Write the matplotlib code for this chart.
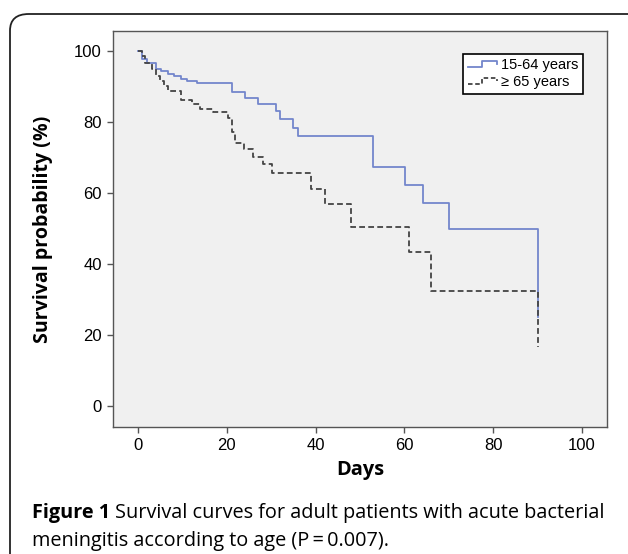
import matplotlib
matplotlib.use("Agg")
import matplotlib.pyplot as plt
from matplotlib.lines import Line2D
from matplotlib.legend_handler import HandlerBase
from matplotlib.patches import FancyBboxPatch

# Kaplan-Meier step data (days, survival %)
days_young = [0, 1.0, 2.0, 4.0, 5.3, 6.8, 8.1, 9.8, 11.1, 13.2, 21.1, 24.1, 27.1,
              31.0, 32.0, 35.0, 36.1, 53.0, 60.1, 64.1, 70.1, 90.1]
surv_young = [100, 97.7, 96.5, 94.9, 94.2, 93.4, 92.8, 92.1, 91.5, 90.9, 88.4, 86.8,
              85.1, 83.1, 80.8, 78.4, 76.1, 67.2, 62.3, 57.1, 49.8, 25.0]

days_old = [0, 1.0, 1.6, 3.1, 4.0, 5.0, 5.9, 6.8, 9.8, 12.1, 14.0, 17.0, 20.2,
            21.1, 21.8, 23.9, 26.0, 28.2, 30.1, 39.0, 42.1, 48.0, 61.0, 66.0, 90.1]
surv_old = [100, 98.6, 96.5, 94.8, 92.8, 91.4, 90.0, 88.6, 86.2, 85.1, 83.7, 82.7,
            81.0, 77.3, 74.0, 72.3, 70.2, 68.2, 65.5, 61.1, 56.8, 50.5, 43.3, 32.4, 16.5]

labels = ["15-64 years", "\u2265 65 years"]
xticks = [0, 20, 40, 60, 80, 100]
yticks = [0, 20, 40, 60, 80, 100]

blue = "#7386cc"
dark = "#444444"


class StepHandler(HandlerBase):
    # small step-shaped legend icon, like the SPSS output
    def create_artists(self, legend, orig_handle, xdescent, ydescent,
                       width, height, fontsize, trans):
        x0 = -xdescent
        y0 = -ydescent
        lo = y0 + height * 0.25
        hi = y0 + height * 0.85
        xs = [x0, x0 + width * 0.5, x0 + width * 0.5, x0 + width, x0 + width]
        ys = [lo, lo, hi, hi, hi - height * 0.35]
        ln = Line2D(xs, ys, color=orig_handle.get_color(),
                    linestyle=orig_handle.get_linestyle(),
                    linewidth=orig_handle.get_linewidth())
        if orig_handle.get_linestyle() == "--":
            ln.set_dashes([2.5, 1.5])
        ln.set_transform(trans)
        return [ln]


def fit_size(txt, target_px, vertical=False):
    # rescale a text so that its rendered length matches the reference
    r = fig.canvas.get_renderer()
    bb = txt.get_window_extent(r)
    cur = bb.height if vertical else bb.width
    txt.set_fontsize(txt.get_fontsize() * target_px / cur)


fig = plt.figure(figsize=(6.28, 5.54), dpi=100)
fig.patch.set_facecolor("white")

# rounded frame around the figure
frame = FancyBboxPatch((10 / 628, -0.05), 1.2, 1.05 - 14 / 554,
                       boxstyle="round,pad=0,rounding_size=0.03",
                       transform=fig.transFigure, facecolor="none",
                       edgecolor="#222222", linewidth=1.3)
fig.patches.append(frame)

ax = fig.add_axes([113 / 628, 127 / 554, 494 / 628, 396 / 554])
ax.set_facecolor("#f0f0f0")

l1, = ax.step(days_young, surv_young, where="post", color=blue, linewidth=1.3)
l2, = ax.step(days_old, surv_old, where="post", color=dark, linewidth=1.3,
              linestyle="--", dashes=(3.2, 1.8))

ax.set_xlim(-5.6, 105.6)
ax.set_ylim(-5.9, 105.6)
ax.set_xticks(xticks)
ax.set_yticks(yticks)

for s in ax.spines.values():
    s.set_color("#555555")
    s.set_linewidth(1.0)
ax.tick_params(direction="out", length=4, width=1, color="#555555", pad=4,
               labelsize=12)
for t in ax.get_xticklabels() + ax.get_yticklabels():
    t.set_fontfamily("Liberation Sans")

ax.set_xlabel("Days", fontfamily="Open Sans", fontweight="bold", fontsize=13.5)
ax.xaxis.set_label_coords(0.5, -0.109)
ax.xaxis.label.set_va("center")
ax.set_ylabel("Survival probability (%)", fontfamily="Open Sans",
              fontweight="bold", fontsize=12.4)
ax.yaxis.set_label_coords(-0.142, 0.5)
ax.yaxis.label.set_va("center")

leg = ax.legend([l1, l2], labels, loc="upper right",
                bbox_to_anchor=(0.951, 0.942), borderaxespad=0,
                handler_map={l1: StepHandler(), l2: StepHandler()},
                prop={"family": "Liberation Sans", "size": 10.5},
                fancybox=False, edgecolor="black", framealpha=1,
                handlelength=2.0, handletextpad=0.3, borderpad=0.3,
                labelspacing=0.2)
leg.get_frame().set_linewidth(1.2)

# caption: bold "Figure 1" followed by regular text
cap_y1 = 1 - 518 / 554
cap_y2 = 1 - 546 / 554
t1 = fig.text(32 / 628, cap_y1, "Figure 1", fontfamily="Open Sans",
              fontweight="bold", fontsize=14, va="baseline")
t2 = fig.text(0.2, cap_y1,
              "Survival curves for adult patients with acute bacterial",
              fontfamily="Open Sans", fontsize=14, va="baseline")
t3 = fig.text(32 / 628, cap_y2,
              "meningitis according to age (P\u2009=\u20090.007).",
              fontfamily=["Open Sans", "DejaVu Sans"], fontsize=14, va="baseline")

fig.canvas.draw()
fit_size(ax.yaxis.label, 228, vertical=True)
fit_size(ax.xaxis.label, 48)

# scale the whole caption so line 1 runs from x=32 to x=605
r = fig.canvas.get_renderer()
w_line = t1.get_window_extent(r).width + 5 + t2.get_window_extent(r).width
scale = (605 - 32) / w_line
for t in (t1, t2, t3):
    t.set_fontsize(t.get_fontsize() * scale)
fig.canvas.draw()
bb = t1.get_window_extent(fig.canvas.get_renderer())
t2.set_x((bb.x1 + 5 * scale) / 628)

fig.savefig("out.png", dpi=100)
